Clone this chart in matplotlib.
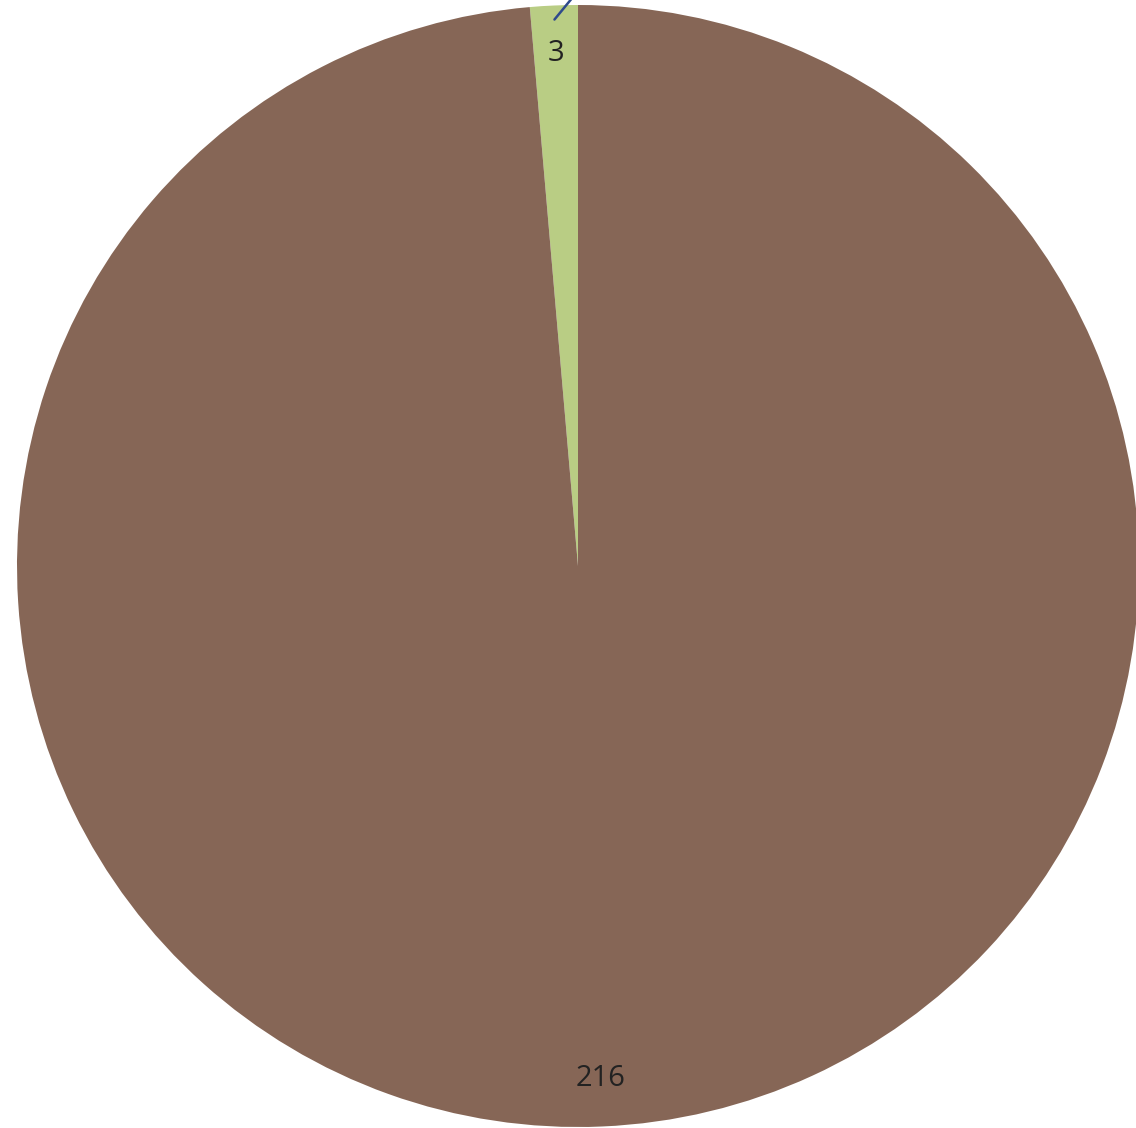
import numpy as np
import matplotlib.pyplot as plt

values = [3, 216]
labels = ["3", "216"]
colors = ["#B9CD84", "#866656"]

W, H = 1136, 1128
cx, cy, R = 578, 566, 561  # pie centre and radius in pixels

fig = plt.figure(figsize=(W / 100, H / 100), dpi=100)
ax = fig.add_axes([0, 0, 1, 1])

wedges, texts = ax.pie(values, labels=labels, colors=colors, startangle=90,
                       counterclock=True, radius=1, labeldistance=0.915,
                       wedgeprops=dict(linewidth=0),
                       textprops=dict(fontsize=21, color="#222222",
                                      family=["Open Sans", "DejaVu Sans"]))
for t in texts:
    t.set_ha("center")
    t.set_va("center")

# pie() resets the limits, so place it afterwards
ax.set_xlim(-cx / R, (W - cx) / R)
ax.set_ylim(-(H - cy) / R, cy / R)
ax.set_aspect("equal")
ax.axis("off")

# leader line for the small slice (its outer label is cut off at the top)
ang = np.deg2rad(90 + 360 * values[0] / sum(values) / 2)
x0, y0 = 0.975 * np.cos(ang), 0.975 * np.sin(ang)
ax.plot([x0, x0 + 0.06], [y0, y0 + 0.073], color="#2E4A8C", lw=1.8,
        solid_capstyle="round", clip_on=False)

fig.savefig("out.png", dpi=100)
